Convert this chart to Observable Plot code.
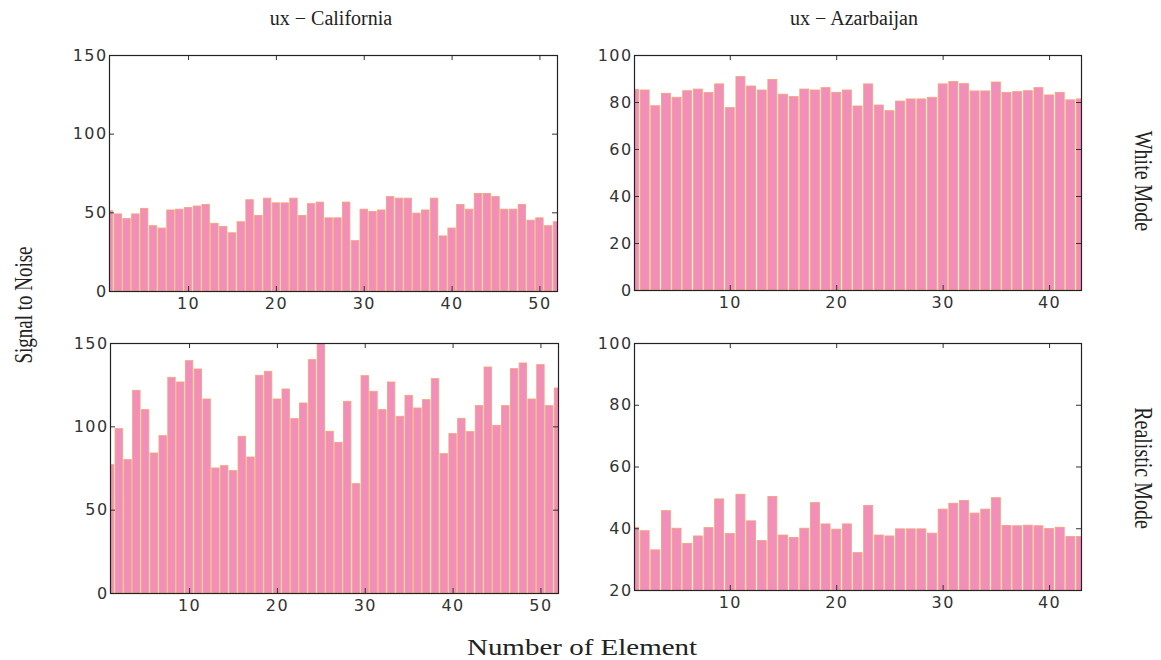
<!DOCTYPE html>
<html>
<head>
<meta charset="utf-8">
<script src="https://cdn.jsdelivr.net/npm/d3@7"></script>
<script src="https://cdn.jsdelivr.net/npm/@observablehq/plot@0.6"></script>
<style>
  html, body { margin: 0; padding: 0; background: #ffffff; }
  #root { position: relative; width: 1161px; height: 660px; overflow: hidden; background: #fff; }
  .panel { position: absolute; }
  .panel svg text { letter-spacing: 1.4px; }
  #labels { position: absolute; left: 0; top: 0; pointer-events: none; }
</style>
</head>
<body>
<div id="root"></div>
<script>
// ---- Data ----
const calWhite = [51,49,46,49,52.5,41.5,40,51.5,52,53,54,55,43,41,37,44,58,48,59,56,56,59,48,55.5,56.5,46.5,46.5,56.5,32,52,50.5,51.5,60,59,59,49.5,51.5,59,35,40,55,52,62,62,60,52,52,55,45,46.5,41.5,44];
const azWhite = [85.4,85.1,78.4,83.7,82,84.8,85.5,84,87.7,77.6,90.8,86.8,85.1,89.6,83.3,82.3,85.5,85.1,86.1,84.1,85.1,78.3,87.7,78.7,76.3,80.4,81.3,81.3,82,87.7,88.7,87.8,84.7,84.7,88.5,84.1,84.4,84.8,86.1,83,84.1,80.9,81.3];
const calReal = [77,98.6,80,121.6,110,84,94.4,129.4,126.6,139.4,134.4,116.4,75,76.4,73.4,94,81.6,130.6,133,116.4,122.4,104.6,114,140,150,97,90.4,115,65.6,130.4,121,110,126.6,106,118.6,111,116,128.6,83.6,95.6,104.8,96.8,112.4,135.6,100.6,112.4,134.6,138,116.4,137,112.4,123];
const azReal = [40.3,39.2,33,45.7,40,35.1,37.5,40.2,49.5,38.3,51,42.4,36,50.3,37.8,37,40,48.3,41.4,39.7,41.4,32.1,47.4,37.8,37.5,39.8,39.8,39.8,38.4,46.2,48.1,49,44.9,46.2,49.9,40.9,40.8,41,40.8,39.9,40.3,37.3,37.3];

const calXTicks = [10,20,30,40,50];
const azXTicks = [10,20,30,40];
const calYTicks = [0,50,100,150];
const azWhiteYTicks = [0,20,40,60,80,100];
const azRealYTicks = [20,40,60,80,100];

const colTitles = ["ux \u2212 California", "ux \u2212 Azarbaijan"];
const rowTitles = ["White Mode", "Realistic Mode"];
const yLabel = "Signal to Noise";
const xLabel = "Number of Element";

const root = document.getElementById("root");

function panel({values, L, R, T, B, yDomain, yTicks, xMax, xTicks}) {
  const mL = 60, mR = 6, mT = 6, mB = 32;
  const fw = R - L, fh = B - T;
  const data = values.map((v, i) => ({n: i + 1, v}));
  const chart = Plot.plot({
    width: fw + mL + mR,
    height: fh + mT + mB,
    marginLeft: mL, marginRight: mR, marginTop: mT, marginBottom: mB,
    x: {domain: [1, xMax], label: null},
    y: {domain: yDomain, label: null},
    style: {fontFamily: "'DejaVu Sans', sans-serif", fontSize: "16px", color: "#333", background: "transparent", overflow: "visible"},
    marks: [
      Plot.rect(data, {x1: d => d.n - 0.42, x2: d => d.n + 0.42, y1: d => 0, y2: "v",
        fill: "#f18fba", stroke: "#f5a37a", strokeWidth: 0.9, clip: true}),
      Plot.tickY(yTicks, {y: d => d, insetRight: fw - 5, stroke: "#333"}),
      Plot.tickY(yTicks, {y: d => d, insetLeft: fw - 5, stroke: "#333"}),
      Plot.tickX(xTicks, {x: d => d, insetBottom: fh - 5, stroke: "#333"}),
      Plot.tickX(xTicks, {x: d => d, insetTop: fh - 5, stroke: "#333"}),
      Plot.axisY(yTicks, {tickSize: 0, tickPadding: 2, fill: "#333", label: null}),
      Plot.axisX(xTicks, {tickSize: 0, tickPadding: 6, fill: "#333", label: null}),
      Plot.frame({stroke: "#222", strokeWidth: 1.2})
    ]
  });
  const wrap = document.createElement("div");
  wrap.className = "panel";
  wrap.style.left = (L - mL) + "px";
  wrap.style.top = (T - mT) + "px";
  wrap.appendChild(chart);
  root.appendChild(wrap);
}

panel({values: calWhite, L: 109, R: 557, T: 55, B: 291, yDomain: [0, 150], yTicks: calYTicks, xMax: 52, xTicks: calXTicks});
panel({values: azWhite, L: 634, R: 1081, T: 55, B: 290, yDomain: [0, 100], yTicks: azWhiteYTicks, xMax: 43, xTicks: azXTicks});
panel({values: calReal, L: 110, R: 558, T: 343, B: 593, yDomain: [0, 150], yTicks: calYTicks, xMax: 52, xTicks: calXTicks});
panel({values: azReal, L: 634, R: 1081, T: 343, B: 590, yDomain: [20, 100], yTicks: azRealYTicks, xMax: 43, xTicks: azXTicks});

// ---- Titles and labels ----
const NS = "http://www.w3.org/2000/svg";
const svg = document.createElementNS(NS, "svg");
svg.setAttribute("id", "labels");
svg.setAttribute("width", 1161);
svg.setAttribute("height", 660);
function addText(str, transform, size, anchor) {
  const t = document.createElementNS(NS, "text");
  t.textContent = str;
  t.setAttribute("transform", transform);
  t.setAttribute("font-family", "'Liberation Serif', 'Times New Roman', serif");
  t.setAttribute("font-size", size);
  t.setAttribute("fill", "#222");
  t.setAttribute("text-anchor", anchor || "middle");
  svg.appendChild(t);
}
addText(colTitles[0], "translate(331,25)", 20);
addText(colTitles[1], "translate(854,25)", 20);
addText(xLabel, "translate(582,655) scale(1.26,1)", 23);
addText(yLabel, "translate(32,305) rotate(-90) scale(1,1.3)", 19);
addText(rowTitles[0], "translate(1135,181) rotate(90) scale(1,1.3)", 20);
addText(rowTitles[1], "translate(1135,468) rotate(90) scale(1,1.3)", 20);
root.appendChild(svg);
</script>
</body>
</html>
